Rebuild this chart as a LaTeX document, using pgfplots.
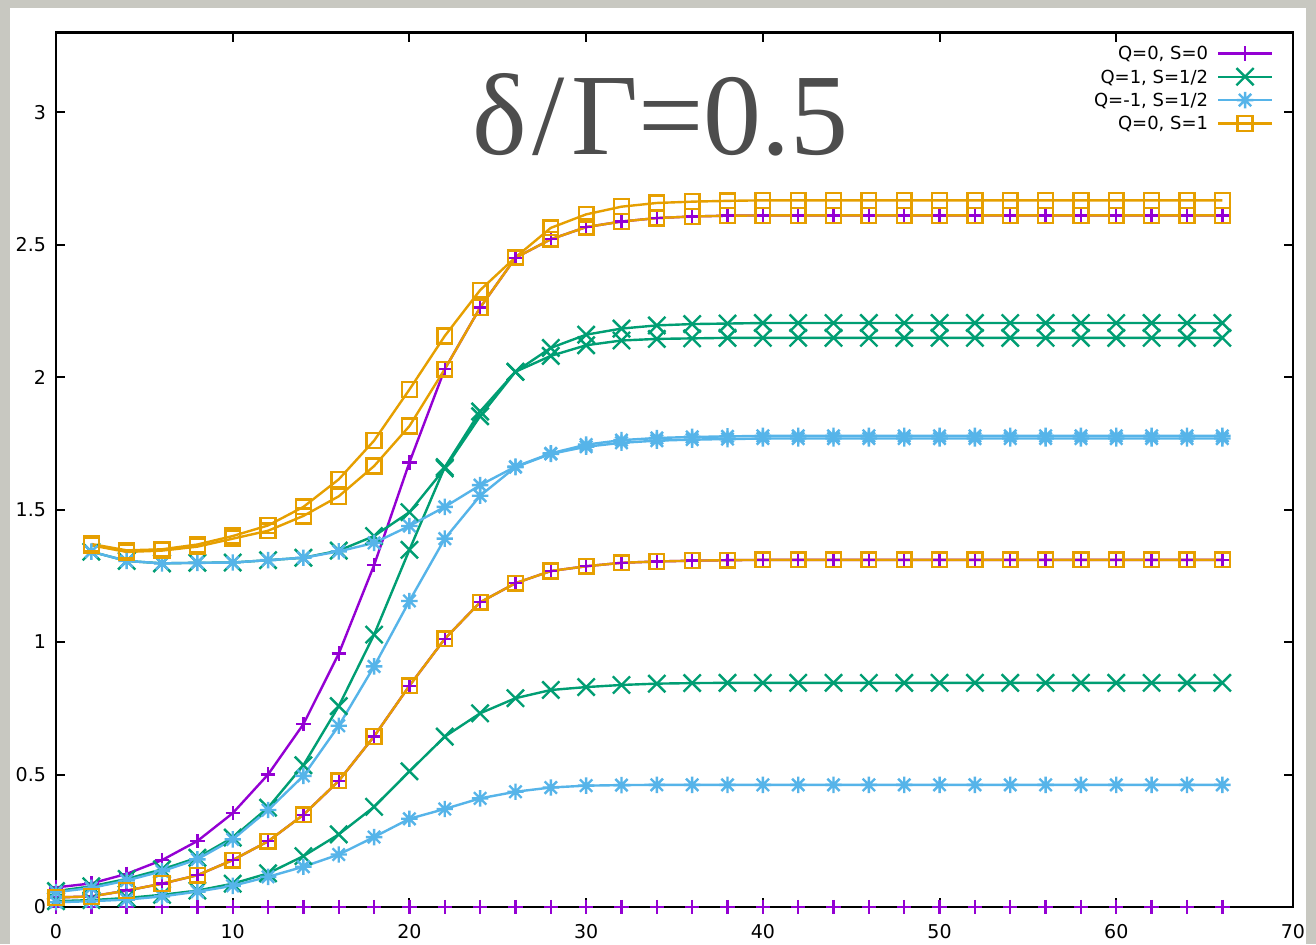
\documentclass[border=0pt]{standalone}
\usepackage{fontspec}
\setmainfont{DejaVu Sans}
\newfontfamily\bigserif{Liberation Serif}
\usepackage{pgfplots}
\usepackage{pgfplotstable}
\pgfplotsset{compat=1.18}

\definecolor{gpviolet}{HTML}{9400D3}
\definecolor{gpgreen}{HTML}{009E73}
\definecolor{gpcyan}{HTML}{56B4E9}
\definecolor{gporange}{HTML}{E69F00}
\definecolor{marble}{HTML}{C8C8C1}
\definecolor{labelgray}{HTML}{4D4D4D}

% gnuplot-like point types
\pgfdeclareplotmark{gpx}{%
  \pgfpathmoveto{\pgfqpoint{-\pgfplotmarksize}{-\pgfplotmarksize}}%
  \pgfpathlineto{\pgfqpoint{\pgfplotmarksize}{\pgfplotmarksize}}%
  \pgfpathmoveto{\pgfqpoint{-\pgfplotmarksize}{\pgfplotmarksize}}%
  \pgfpathlineto{\pgfqpoint{\pgfplotmarksize}{-\pgfplotmarksize}}%
  \pgfusepathqstroke}
\pgfdeclareplotmark{gpstar}{%
  \pgfpathmoveto{\pgfqpoint{-\pgfplotmarksize}{0pt}}%
  \pgfpathlineto{\pgfqpoint{\pgfplotmarksize}{0pt}}%
  \pgfpathmoveto{\pgfqpoint{0pt}{-\pgfplotmarksize}}%
  \pgfpathlineto{\pgfqpoint{0pt}{\pgfplotmarksize}}%
  \pgfpathmoveto{\pgfqpoint{-.75\pgfplotmarksize}{-.75\pgfplotmarksize}}%
  \pgfpathlineto{\pgfqpoint{.75\pgfplotmarksize}{.75\pgfplotmarksize}}%
  \pgfpathmoveto{\pgfqpoint{-.75\pgfplotmarksize}{.75\pgfplotmarksize}}%
  \pgfpathlineto{\pgfqpoint{.75\pgfplotmarksize}{-.75\pgfplotmarksize}}%
  \pgfusepathqstroke}

% Q=0, S=0
\pgfplotstableread{
x  z  b      c
0  0  0.036  0.074
2  0  0.040  0.089
4  0  0.062  0.125
6  0  0.088  0.177
8  0  0.120  0.249
10 0  0.177  0.354
12 0  0.248  0.500
14 0  0.348  0.690
16 0  0.476  0.956
18 0  0.644  1.290
20 0  0.835  1.678
22 0  1.012  2.030
24 0  1.150  2.262
26 0  1.222  2.450
28 0  1.268  2.520
30 0  1.286  2.566
32 0  1.299  2.587
34 0  1.304  2.600
36 0  1.307  2.606
38 0  1.309  2.609
40 0  1.310  2.610
42 0  1.310  2.610
44 0  1.310  2.610
46 0  1.310  2.610
48 0  1.310  2.610
50 0  1.310  2.610
52 0  1.310  2.610
54 0  1.310  2.610
56 0  1.310  2.610
58 0  1.310  2.610
60 0  1.310  2.610
62 0  1.310  2.610
64 0  1.310  2.610
66 0  1.310  2.610
}\tpurple

% Q=1, S=1/2
\pgfplotstableread{
x  a      b      c
0  0.022  0.060  nan
2  0.026  0.078  1.341
4  0.034  0.106  1.306
6  0.046  0.142  1.297
8  0.062  0.186  1.299
10 0.088  0.262  1.300
12 0.127  0.375  1.309
14 0.192  0.535  1.318
16 0.274  0.758  1.345
18 0.378  1.028  1.400
20 0.512  1.348  1.490
22 0.643  1.660  1.655
24 0.731  1.870  1.852
26 0.788  2.020  2.020
28 0.819  2.080  2.110
30 0.830  2.120  2.160
32 0.838  2.138  2.183
34 0.843  2.144  2.195
36 0.845  2.146  2.200
38 0.846  2.148  2.202
40 0.846  2.148  2.204
42 0.846  2.148  2.204
44 0.846  2.148  2.204
46 0.846  2.148  2.204
48 0.846  2.148  2.204
50 0.846  2.148  2.204
52 0.846  2.148  2.204
54 0.846  2.148  2.204
56 0.846  2.148  2.204
58 0.846  2.148  2.204
60 0.846  2.148  2.204
62 0.846  2.148  2.204
64 0.846  2.148  2.204
66 0.846  2.148  2.204
}\tgreen

% Q=-1, S=1/2
\pgfplotstableread{
x  a      b      c
0  0.018  0.056  nan
2  0.022  0.072  1.341
4  0.028  0.100  1.306
6  0.040  0.135  1.297
8  0.058  0.180  1.299
10 0.080  0.255  1.300
12 0.114  0.366  1.309
14 0.152  0.495  1.318
16 0.198  0.684  1.342
18 0.264  0.908  1.374
20 0.333  1.155  1.438
22 0.370  1.390  1.510
24 0.410  1.552  1.592
26 0.435  1.660  1.662
28 0.451  1.710  1.712
30 0.458  1.737  1.745
32 0.460  1.752  1.762
34 0.461  1.760  1.770
36 0.461  1.764  1.774
38 0.461  1.766  1.776
40 0.461  1.768  1.778
42 0.461  1.768  1.778
44 0.461  1.768  1.778
46 0.461  1.768  1.778
48 0.461  1.768  1.778
50 0.461  1.768  1.778
52 0.461  1.768  1.778
54 0.461  1.768  1.778
56 0.461  1.768  1.778
58 0.461  1.768  1.778
60 0.461  1.768  1.778
62 0.461  1.768  1.778
64 0.461  1.768  1.778
66 0.461  1.768  1.778
}\tcyan

% Q=0, S=1
\pgfplotstableread{
x  a      b      c
0  0.036  nan    nan
2  0.040  1.365  1.370
4  0.062  1.340  1.346
6  0.088  1.345  1.350
8  0.120  1.360  1.368
10 0.177  1.390  1.400
12 0.248  1.420  1.440
14 0.348  1.476  1.510
16 0.476  1.550  1.614
18 0.644  1.664  1.760
20 0.835  1.815  1.953
22 1.012  2.030  2.155
24 1.150  2.262  2.328
26 1.222  2.450  2.452
28 1.268  2.520  2.563
30 1.286  2.566  2.614
32 1.299  2.587  2.643
34 1.304  2.600  2.657
36 1.307  2.606  2.662
38 1.309  2.609  2.665
40 1.310  2.610  2.667
42 1.310  2.610  2.667
44 1.310  2.610  2.667
46 1.310  2.610  2.667
48 1.310  2.610  2.667
50 1.310  2.610  2.667
52 1.310  2.610  2.667
54 1.310  2.610  2.667
56 1.310  2.610  2.667
58 1.310  2.610  2.667
60 1.310  2.610  2.667
62 1.310  2.610  2.667
64 1.310  2.610  2.667
66 1.310  2.610  2.667
}\torange

\pgfplotsset{
  qss/.style={line width=1.2pt, mark options={solid, line width=1.2pt}},
  sviolet/.style={qss, gpviolet, mark=+, mark size=3.6pt},
  sgreen/.style={qss, gpgreen, mark=gpx, mark size=4.3pt},
  scyan/.style={qss, gpcyan, mark=gpstar, mark size=4.1pt},
  sorange/.style={qss, gporange, mark=square, mark size=3.7pt},
}

\begin{document}
\begin{tikzpicture}
\useasboundingbox (0,0) rectangle (658pt,472pt);
\fill[marble] (0,0) rectangle (658pt,472pt);
\fill[white] (5pt,0) rectangle (653pt,468pt);
\begin{axis}[
  scale only axis,
  width=618.5pt, height=437.2pt,
  at={(28pt,18.5pt)}, anchor=south west,
  xmin=0, xmax=70, ymin=0, ymax=3.3,
  xtick={0,10,...,70},
  ytick={0,0.5,1,1.5,2,2.5,3},
  tick align=inside,
  major tick length=4.5pt,
  tick style={black, line width=1pt},
  axis line style={black, line width=1.1pt},
  axis on top,
  clip=false,
  /pgf/number format/assume math mode=true,
  ticklabel style={font=\fontsize{9.5}{10}\selectfont},
  xticklabel style={yshift=-5pt},
  yticklabel style={xshift=-1.5pt},
  legend cell align=right,
  legend plot pos=right,
  legend image code/.code={%
    \draw[mark repeat=2, mark phase=2] plot coordinates {(0cm,0cm) (0.47cm,0cm) (0.94cm,0cm)};},
  legend style={
    at={(axis cs:68.87,3.266)}, anchor=north east,
    draw=none, fill=none, inner sep=0pt, outer sep=0pt,
    row sep=0pt, column sep=4.5pt,
    font=\fontsize{9}{10}\selectfont,
    nodes={inner sep=0pt, text height=9.05pt, text depth=2.65pt},
  },
]
\addplot[sviolet] table[x=x, y=z] {\tpurple};
\addlegendentry{Q=0, S=0}
\addplot[sviolet, forget plot] table[x=x, y=b] {\tpurple};
\addplot[sviolet, forget plot] table[x=x, y=c] {\tpurple};

\addplot[sgreen] table[x=x, y=a] {\tgreen};
\addlegendentry{Q=1, S=1/2}
\addplot[sgreen, forget plot] table[x=x, y=b] {\tgreen};
\addplot[sgreen, forget plot] table[x=x, y=c] {\tgreen};

\addplot[scyan] table[x=x, y=a] {\tcyan};
\addlegendentry{Q=-1, S=1/2}
\addplot[scyan, forget plot] table[x=x, y=b] {\tcyan};
\addplot[scyan, forget plot] table[x=x, y=c] {\tcyan};

\addplot[sorange] table[x=x, y=a] {\torange};
\addlegendentry{Q=0, S=1}
\addplot[sorange, forget plot] table[x=x, y=b] {\torange};
\addplot[sorange, forget plot] table[x=x, y=c] {\torange};

\node[anchor=base, inner sep=0pt, text=labelgray,
      font=\bigserif\fontsize{58}{60}\selectfont]
  at (axis cs:34.2,2.84) {δ\hspace{3pt}/\hspace{3pt}Γ=0.5};
\end{axis}
\end{tikzpicture}
\end{document}
